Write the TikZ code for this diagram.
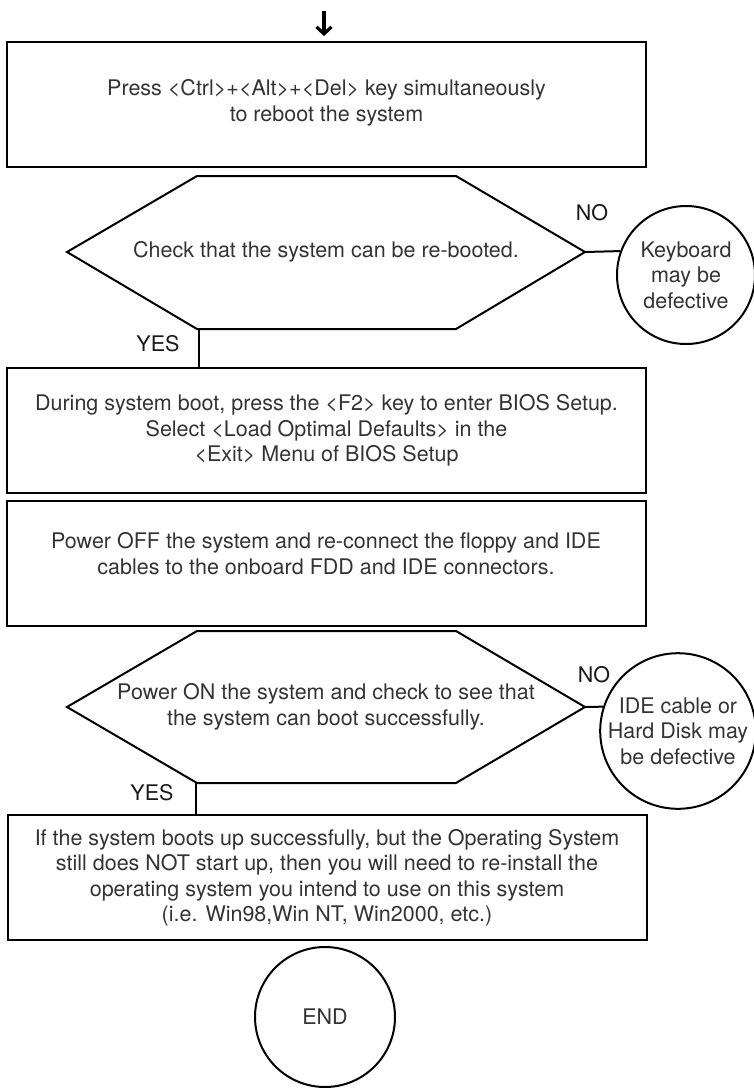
\documentclass[tikz,border=0pt]{standalone}
\usepackage{fontspec}
\setmainfont{TeX Gyre Heros}
\usetikzlibrary{arrows.meta}
\begin{document}
\begin{tikzpicture}[>={Straight Barb[length=7pt,width=15pt]},x=1pt,y=-1pt,line width=2pt,
		txt/.style={font=\fontsize{21.5}{25.5}\selectfont,text=black!80,align=center},
		stepbox/.style={draw,rectangle,minimum width=639pt,minimum height=125pt,txt},
		askbox/.style={txt,inner sep=0pt},
		endcirc/.style={draw,circle,inner sep=0pt,txt},
		yesno/.style={font=\fontsize{21.5}{25.5}\selectfont,text=black!90,inner sep=0pt}]
		\useasboundingbox (0,0) rectangle (754,1088);
		% start
		\coordinate (in) at (324,11);
		\coordinate (inend) at (324,36);
		\draw[->,line width=3.2pt] (in) -- (inend);
		\node[stepbox] (reboot) at (326.5,104.5) {Press <Ctrl>+<Alt>+<Del> key simultaneously\\to reboot the system\\[-17.5pt]\mbox{}};
		% first check
		\node[askbox] (chk) at (326,252) {Check that the system can be re-booted.};
		\draw (67,252) -- (197,176) -- (456,176) -- (585,252) -- (456,329) -- (197,329) -- cycle;
		\coordinate (chkR) at (585,252);
		\coordinate (chkB) at (199,329);
		\node[endcirc,minimum size=138pt] (kbd) at (686,275) {Keyboard\\may be\\defective};
		\draw (chkR) -- (kbd.160);
		\node[yesno] (no1) at (592,213) {NO};
		\node[yesno] (yes1) at (158,344) {YES};
		% bios and cables
		\node[stepbox] (bios) at (326.5,430.5) {During system boot, press the <F2> key to enter BIOS Setup.\\Select <Load Optimal Defaults> in the\\<Exit> Menu of BIOS Setup};
		\draw (chkB) -- (chkB |- bios.north);
		\node[stepbox] (cables) at (326,563.5) {Power OFF the system and re-connect the floppy and IDE\\cables to the onboard FDD and IDE connectors.\\[-5pt]\mbox{}};
		% second check
		\node[askbox] (boot) at (326,707) {Power ON the system and check to see that\\the system can boot successfully.};
		\draw (67,707) -- (197,631) -- (456,631) -- (585,707) -- (456,783) -- (197,783) -- cycle;
		\coordinate (bootR) at (585,707);
		\coordinate (bootB) at (196,783);
		\node[endcirc,minimum size=154pt] (ide) at (678,731) {IDE cable or\\Hard Disk may\\be defective};
		\draw (bootR) -- (ide.162);
		\node[yesno] (no2) at (594,675) {NO};
		\node[yesno] (yes2) at (152,793) {YES};
		% reinstall
		\node[stepbox] (os) at (327,877.5) {If the system boots up successfully, but the Operating System\\still does NOT start up, then you will need to re-install the\\operating system you intend to use on this system\\(i.e. Win98,Win NT, Win2000, etc.)};
		\draw (bootB) -- (bootB |- os.north);
		\node[endcirc,minimum size=140pt] (fin) at (325,1017) {END};
\end{tikzpicture}
\end{document}
